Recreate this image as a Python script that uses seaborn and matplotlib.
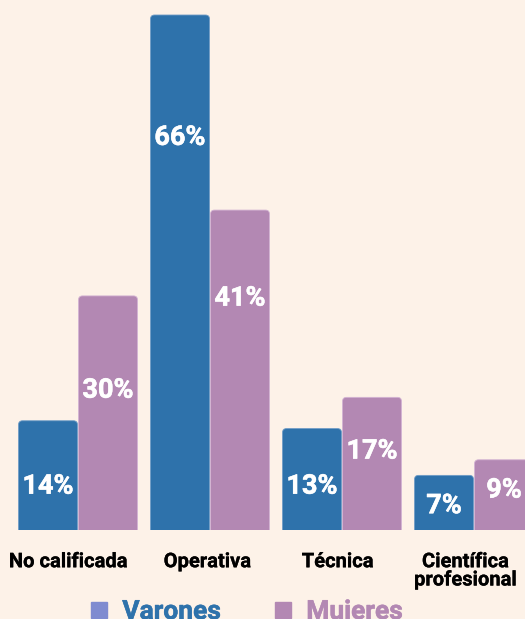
import matplotlib
matplotlib.use("Agg")
import matplotlib.pyplot as plt
import matplotlib.transforms as mtransforms
import matplotlib.patheffects as pe
from matplotlib.patches import FancyBboxPatch
from matplotlib.lines import Line2D
import seaborn as sns
import pandas as pd

# ---- data ----
categorias = ["No calificada", "Operativa", "Técnica", "Científica\nprofesional"]
varones = [14, 66, 13, 7]
mujeres = [30, 41, 17, 9]
series = ["Varones", "Mujeres"]

# ---- style ----
BG = "#fdf2e8"
C_VAR = "#2e72ab"
C_MUJ = "#b388b3"
C_VAR_LEG = "#7f8bd0"
label_pos = {"Varones": [6.0, 50.7, 6.0, 3.5], "Mujeres": [18.3, 30.1, 10.5, 5.5]}
tick_shift_px = [-10, -2.5, -4.5, -8.5]


def thick(color, lw=0.6):
    return [pe.withStroke(linewidth=lw, foreground=color)]


sns.set_theme(style="white")
plt.rcParams["font.family"] = ["Roboto", "DejaVu Sans"]

df = pd.DataFrame({
    "categoria": categorias * 2,
    "valor": varones + mujeres,
    "sexo": [series[0]] * len(categorias) + [series[1]] * len(categorias),
})

fig = plt.figure(figsize=(5.25, 6.19), dpi=100, facecolor=BG)
ax = fig.add_axes([0, 89 / 619, 1, 530 / 619])
ax.set_facecolor(BG)

sns.barplot(data=df, x="categoria", y="valor", hue="sexo", order=categorias,
            hue_order=series, palette=[C_VAR, C_MUJ], width=0.909, gap=0.017,
            ax=ax, legend=False, saturation=1)

ax.set_xlim(-78 / 132, (525 - 78) / 132)
ax.set_ylim(0, 530 / ((530 - 15) / 66))

# rounded top corners
xu = 1 / 132
yu = 66 / (530 - 15)
aspect = yu / xu
edge = {C_VAR: "#6f9cc6", C_MUJ: "#d3b3d3"}
for p in list(ax.patches):
    x, w, h = p.get_x(), p.get_width(), p.get_height()
    fc = matplotlib.colors.to_hex(p.get_facecolor())
    p.set_visible(False)
    r = 4 * xu
    fb = FancyBboxPatch((x, -1.0), w, h + 1.0,
                        boxstyle=f"round,pad=0,rounding_size={r}",
                        mutation_aspect=aspect, facecolor=fc,
                        edgecolor=edge.get(fc, fc), linewidth=0.6, zorder=2)
    ax.add_patch(fb)

# value labels
for i, (vals, s) in enumerate([(varones, "Varones"), (mujeres, "Mujeres")]):
    for j, v in enumerate(vals):
        xc = j + (-1 if i == 0 else 1) * 0.909 / 4
        ax.text(xc, label_pos[s][j], f"{v}%", ha="center", va="center_baseline",
                color="white", fontsize=19.5, fontweight="bold", zorder=3,
                path_effects=thick("white", 0.4))

for sp in ax.spines.values():
    sp.set_visible(False)
ax.set_yticks([])
ax.set_xlabel("")
ax.set_ylabel("")
ax.tick_params(axis="x", length=0, pad=16)
for t, dx in zip(ax.get_xticklabels(), tick_shift_px):
    t.set_fontsize(14.5)
    t.set_fontweight("bold")
    t.set_color("black")
    t.set_linespacing(0.95)
    t.set_path_effects(thick("black", 0.2))
    t.set_transform(t.get_transform() +
                    mtransforms.ScaledTranslation(dx / 100, 0, fig.dpi_scale_trans))

handles = [Line2D([], [], marker="s", linestyle="none", markersize=12,
                  markerfacecolor=C_VAR_LEG, markeredgecolor=C_VAR_LEG),
           Line2D([], [], marker="s", linestyle="none", markersize=12,
                  markerfacecolor=C_MUJ, markeredgecolor=C_MUJ)]
leg = fig.legend(handles, series, ncol=2, loc="upper left",
                 bbox_to_anchor=(88 / 525, 1 - 600 / 619), frameon=False,
                 borderpad=0, borderaxespad=0, handlelength=0.8,
                 handletextpad=0.5, columnspacing=1.93,
                 prop={"family": "Roboto", "weight": "bold", "size": 19})
for t, c in zip(leg.get_texts(), [C_VAR, C_MUJ]):
    t.set_color(c)
    t.set_path_effects(thick(c, 0.4))

fig.savefig("out.png", dpi=100, facecolor=BG)
